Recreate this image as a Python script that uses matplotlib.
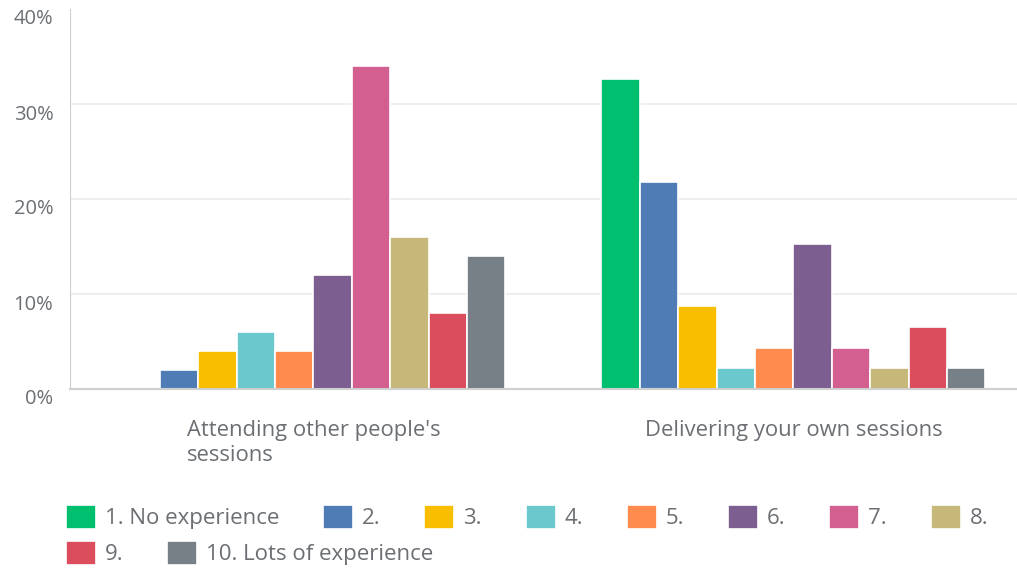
import matplotlib.pyplot as plt
import numpy as np
from matplotlib.transforms import ScaledTranslation

plt.rcParams['font.family'] = ['Open Sans', 'DejaVu Sans']

categories = ["Attending other people's\nsessions", "Delivering your own sessions"]
levels = ["1. No experience", "2.", "3.", "4.", "5.", "6.", "7.", "8.", "9.", "10. Lots of experience"]
colors = ["#00BF6F", "#507CB6", "#F9BE00", "#6BC8CD", "#FF8B4F",
          "#7D5E90", "#D25F90", "#C6B879", "#DB4D5C", "#768086"]

# percent of responses per experience level, one list per category
attending = [0, 2, 4, 6, 4, 12, 34, 16, 8, 14]
delivering = [32.61, 21.74, 8.70, 2.17, 4.35, 15.22, 4.35, 2.17, 6.52, 2.17]

text_color = "#6b6f73"

fig = plt.figure(figsize=(10.17, 5.74), dpi=100)
ax = fig.add_axes([70 / 1017, 185 / 574, 947 / 1017, 380 / 574])
ax.set_axisbelow(True)

x = np.arange(len(categories))
slot = 0.08
bars = []
for i in range(len(levels)):
    vals = [attending[i], delivering[i]]
    b = ax.bar(x + (i - 4.5) * slot, vals, width=slot, color=colors[i],
               edgecolor="white", linewidth=1.2, label=levels[i], zorder=2)
    bars.append(b)

ax.set_xlim(-0.507, 1.466)
ax.set_ylim(0, 40)
ax.set_yticks([0, 10, 20, 30, 40])
ax.set_yticklabels(["0%", "10%", "20%", "30%", "40%"])
ax.yaxis.grid(True, color="#ebebeb", linewidth=1.2)
ax.yaxis.get_gridlines()[-1].set_visible(False)
ax.set_xticks(x)
ax.set_xticklabels(categories, multialignment="left", linespacing=1.3)

ax.tick_params(axis="y", length=0, labelcolor=text_color, labelsize=14.5, pad=12)
ax.tick_params(axis="x", length=0, labelcolor=text_color, labelsize=15.8, pad=22)
for lab in ax.get_yticklabels():
    lab.set_transform(lab.get_transform() + ScaledTranslation(0, -0.08, fig.dpi_scale_trans))

for side in ["top", "right"]:
    ax.spines[side].set_visible(False)
ax.spines["left"].set_color("#d0d0d0")
ax.spines["bottom"].set_color("#cfcfcf")
ax.spines["bottom"].set_linewidth(1.5)

leg_kw = dict(frameon=False, loc="center left", borderpad=0, borderaxespad=0,
              fontsize=16, handlelength=1.35, handleheight=1.35,
              handletextpad=0.4, columnspacing=1.97, labelcolor=text_color)
fig.legend(bars[:8], levels[:8], ncol=8, bbox_to_anchor=(66 / 1017, 57 / 574), **leg_kw)
fig.legend(bars[8:], levels[8:], ncol=2, bbox_to_anchor=(66 / 1017, 21 / 574), **leg_kw)

fig.savefig("out.png", dpi=100)
